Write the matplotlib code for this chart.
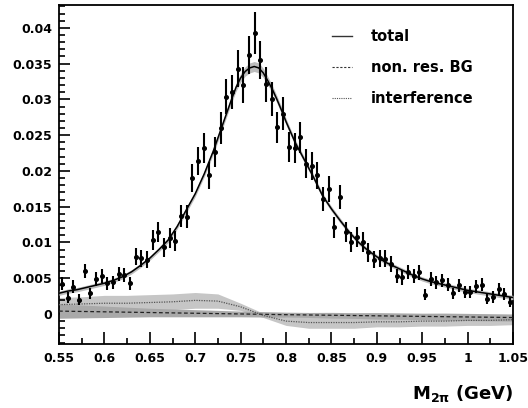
import numpy as np
import matplotlib
matplotlib.use("Agg")
import matplotlib.pyplot as plt
from matplotlib.lines import Line2D
from matplotlib.ticker import FixedLocator, MultipleLocator

# ---------------- data ----------------
bin_lo, bin_hi, n_bins = 0.55, 1.05, 80
point_y = [0.0042, 0.0023, 0.0038, 0.0020, 0.0060, 0.0029, 0.0049, 0.0053, 0.0043, 0.0044,
           0.0056, 0.0054, 0.0043, 0.0080, 0.0078, 0.0076, 0.0103, 0.0114, 0.0093, 0.0106,
           0.0102, 0.0137, 0.0136, 0.0190, 0.0214, 0.0232, 0.0194, 0.0227, 0.0260, 0.0304,
           0.0310, 0.0343, 0.0320, 0.0362, 0.0393, 0.0355, 0.0321, 0.0301, 0.0261, 0.0280,
           0.0234, 0.0232, 0.0247, 0.0210, 0.0207, 0.0194, 0.0161, 0.0175, 0.0121, 0.0164,
           0.0114, 0.0100, 0.0108, 0.0101, 0.0086, 0.0076, 0.0078, 0.0077, 0.0070, 0.0053,
           0.0051, 0.0059, 0.0053, 0.0058, 0.0027, 0.0049, 0.0044, 0.0047, 0.0041, 0.0029,
           0.0040, 0.0031, 0.0031, 0.0039, 0.0041, 0.0021, 0.0024, 0.0035, 0.0028, 0.0017]
point_err = [0.0009, 0.0008, 0.0009, 0.0008, 0.0010, 0.0008, 0.0010, 0.0010, 0.0009, 0.0009,
             0.0010, 0.0010, 0.0009, 0.0012, 0.0012, 0.0012, 0.0014, 0.0014, 0.0013, 0.0014,
             0.0014, 0.0016, 0.0016, 0.0019, 0.0020, 0.0021, 0.0019, 0.0021, 0.0022, 0.0024,
             0.0024, 0.0026, 0.0025, 0.0027, 0.0029, 0.0027, 0.0025, 0.0024, 0.0022, 0.0023,
             0.0021, 0.0021, 0.0022, 0.0020, 0.0020, 0.0019, 0.0017, 0.0018, 0.0015, 0.0017,
             0.0014, 0.0014, 0.0014, 0.0014, 0.0013, 0.0012, 0.0012, 0.0012, 0.0011, 0.0010,
             0.0010, 0.0010, 0.0010, 0.0010, 0.0008, 0.0010, 0.0009, 0.0009, 0.0009, 0.0008,
             0.0009, 0.0008, 0.0008, 0.0009, 0.0009, 0.0007, 0.0008, 0.0008, 0.0008, 0.0007]

total_x = [0.55, 0.56, 0.57, 0.58, 0.59, 0.60, 0.61, 0.62, 0.63, 0.64, 0.65, 0.66, 0.67, 0.68,
           0.69, 0.70, 0.71, 0.72, 0.73, 0.74, 0.745, 0.75, 0.755, 0.76, 0.765, 0.77, 0.775,
           0.78, 0.785, 0.79, 0.795, 0.80, 0.81, 0.82, 0.83, 0.84, 0.85, 0.86, 0.87, 0.88,
           0.89, 0.90, 0.91, 0.92, 0.93, 0.94, 0.95, 0.96, 0.97, 0.98, 0.99, 1.00, 1.01,
           1.02, 1.03, 1.04, 1.05]
total_y = [0.0029, 0.0032, 0.0034, 0.0037, 0.0040, 0.0043, 0.0047, 0.0052, 0.0059, 0.0068,
           0.0078, 0.0090, 0.0103, 0.0122, 0.0145, 0.0168, 0.0196, 0.0228, 0.0264, 0.0300,
           0.0317, 0.0330, 0.0339, 0.0344, 0.0346, 0.0344, 0.0337, 0.0326, 0.0314, 0.0300,
           0.0285, 0.0269, 0.0240, 0.0216, 0.0192, 0.0166, 0.0147, 0.0130, 0.0114, 0.0100,
           0.0089, 0.0080, 0.0072, 0.0066, 0.0060, 0.0054, 0.0049, 0.0045, 0.0042, 0.0039,
           0.0036, 0.0033, 0.0031, 0.0029, 0.0027, 0.0025, 0.0023]
total_band = [0.0003, 0.0003, 0.0003, 0.0003, 0.0003, 0.0003, 0.0003, 0.0003, 0.0003, 0.0003,
              0.0003, 0.0003, 0.00035, 0.00035, 0.0004, 0.0004, 0.0004, 0.00045, 0.0005, 0.0005,
              0.00055, 0.0006, 0.00065, 0.0007, 0.0007, 0.0007, 0.00065, 0.0006, 0.00055, 0.0005,
              0.0005, 0.00045, 0.0004, 0.0004, 0.0004, 0.00035, 0.00035, 0.00035, 0.0003, 0.0003,
              0.0003, 0.0003, 0.0003, 0.0003, 0.0003, 0.0003, 0.0003, 0.0003, 0.0003, 0.0003,
              0.0003, 0.0003, 0.0003, 0.0003, 0.0003, 0.0003, 0.0003]

low_x = [0.55, 0.575, 0.60, 0.625, 0.65, 0.675, 0.70, 0.725, 0.75, 0.775, 0.80,
         0.825, 0.85, 0.875, 0.90, 0.925, 0.95, 0.975, 1.00, 1.025, 1.05]
interf_y = [0.0013, 0.0014, 0.0015, 0.0015, 0.0016, 0.0017, 0.0019, 0.0018, 0.0010, -0.0002,
            -0.0010, -0.0012, -0.0012, -0.0012, -0.0011, -0.0011, -0.0010, -0.0010, -0.0009,
            -0.0009, -0.0008]
interf_band = [0.0010, 0.0010, 0.0011, 0.0011, 0.0011, 0.0011, 0.0011, 0.0010, 0.0005, 0.0003,
               0.0006, 0.0008, 0.0008, 0.0008, 0.0007, 0.0007, 0.0007, 0.0007, 0.0007, 0.0007,
               0.0007]
bg_y = [0.0004, 0.00035, 0.0003, 0.00025, 0.0002, 0.00015, 0.0001, 0.00005, 0.0, -0.00005,
        -0.0001, -0.00014, -0.00018, -0.00022, -0.00026, -0.0003, -0.00034, -0.00038, -0.00042,
        -0.00046, -0.0005]
bg_band = [0.0010, 0.0009, 0.0008, 0.0007, 0.0006, 0.00055, 0.0005, 0.00045, 0.0004, 0.00038,
           0.00035, 0.00035, 0.0004, 0.0004, 0.00045, 0.00045, 0.00045, 0.0005, 0.0005, 0.0005,
           0.0005]

x_ticks = [0.55, 0.6, 0.65, 0.7, 0.75, 0.8, 0.85, 0.9, 0.95, 1.0, 1.05]
x_tick_labels = ["0.55", "0.6", "0.65", "0.7", "0.75", "0.8", "0.85", "0.9", "0.95", "1", "1.05"]
y_ticks = [0, 0.005, 0.01, 0.015, 0.02, 0.025, 0.03, 0.035, 0.04]
y_tick_labels = ["0", "0.005", "0.01", "0.015", "0.02", "0.025", "0.03", "0.035", "0.04"]
legend_labels = ["total", "non. res. BG", "interference"]
x_label = r"M$_{\mathbf{2}\mathbf{\pi}}$ (GeV)"

# ---------------- plot ----------------
plt.rcParams['font.family'] = ['DejaVu Sans']
plt.rcParams['mathtext.fontset'] = 'dejavusans'

fig = plt.figure(figsize=(5.28, 4.08), dpi=100)
ax = fig.add_axes([59 / 528, 1 - 344 / 408, 454 / 528, 339 / 408])

edges = np.linspace(bin_lo, bin_hi, n_bins + 1)
px = 0.5 * (edges[:-1] + edges[1:])
py = np.array(point_y)
pe = np.array(point_err)

lx = np.array(low_x)
iy, ib = np.array(interf_y), np.array(interf_band)
by, bb = np.array(bg_y), np.array(bg_band)
tx, ty, tb = np.array(total_x), np.array(total_y), np.array(total_band)

ax.fill_between(lx, iy - ib, iy + ib, color='#c6c6c6', lw=0, zorder=1)
ax.fill_between(lx, by - bb, by + bb, color='#a9a9a9', lw=0, zorder=2)
ax.fill_between(tx, ty - tb, ty + tb, color='#bdbdbd', lw=0, zorder=3)

ax.plot(lx, by, color='#222222', lw=0.9, ls=(0, (3, 2)), zorder=4)
ax.plot(lx, iy, color='#555555', lw=0.9, ls=(0, (1, 1)), zorder=4)
ax.plot(tx, ty, color='black', lw=1.1, zorder=5)

ax.errorbar(px, py, yerr=pe, fmt='o', ms=2.6, color='black', ecolor='black',
            elinewidth=1.5, capsize=0, zorder=6)

ax.set_xlim(0.55, 1.05)
ax.set_ylim(-0.0042, 0.0432)

ax.xaxis.set_major_locator(FixedLocator(x_ticks))
ax.set_xticklabels(x_tick_labels)
ax.xaxis.set_minor_locator(MultipleLocator(0.025))
ax.yaxis.set_major_locator(FixedLocator(y_ticks))
ax.set_yticklabels(y_tick_labels)
ax.yaxis.set_minor_locator(MultipleLocator(0.001))

ax.tick_params(which='both', direction='in', top=False, right=False, width=1.2)
ax.tick_params(axis='x', which='major', length=9, pad=6, labelsize=9)
ax.tick_params(axis='x', which='minor', length=4.5)
ax.tick_params(axis='y', which='major', length=8, pad=5, labelsize=9)
ax.tick_params(axis='y', which='minor', length=4)
for lab in ax.get_xticklabels() + ax.get_yticklabels():
    lab.set_fontweight('bold')
for s in ax.spines.values():
    s.set_linewidth(1.3)

handles = [Line2D([], [], color='#333333', lw=1.0),
           Line2D([], [], color='#333333', lw=0.8, ls=(0, (2, 1.5))),
           Line2D([], [], color='#555555', lw=0.8, ls=(0, (1, 1)))]
leg = ax.legend(handles, legend_labels, loc='upper left', bbox_to_anchor=(0.601, 0.93),
                frameon=False, borderpad=0, borderaxespad=0, handlelength=1.4,
                handletextpad=1.3, labelspacing=1.1, prop={'weight': 'bold', 'size': 10.5})

fig.text(513 / 528, 1 - 399 / 408, x_label, ha='right', va='baseline',
         fontsize=13, fontweight='bold')

fig.savefig('out.png', dpi=100)
